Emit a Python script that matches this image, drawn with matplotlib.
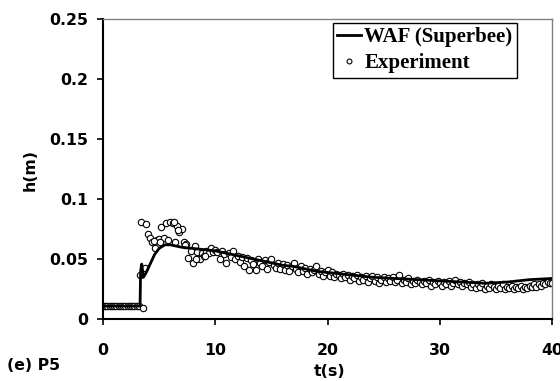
import numpy as np
import matplotlib
matplotlib.use("Agg")
import matplotlib.pyplot as plt
from matplotlib.lines import Line2D

# --- Simulated (WAF Superbee) ---
sim_t = [0, 3.3, 3.35, 3.45, 3.6, 3.8, 4.2, 4.6, 5.0, 5.5, 6.0, 7.0, 8.0, 9.0, 10.0,
         11.0, 12.0, 13.0, 14.0, 15.0, 16.0, 17.0, 18.0, 19.0, 20.0, 22.0, 24.0,
         26.0, 28.0, 30.0, 32.0, 34.0, 36.0, 38.0, 40.0]
sim_h = [0.011, 0.011, 0.040, 0.046, 0.035, 0.038, 0.046, 0.054, 0.059, 0.062, 0.062,
         0.060, 0.059, 0.058, 0.057, 0.055, 0.053, 0.051, 0.049, 0.047, 0.045, 0.044,
         0.042, 0.040, 0.039, 0.037, 0.035, 0.034, 0.033, 0.032, 0.031, 0.030, 0.031,
         0.033, 0.034]

# --- Experiment (sampled every 0.2 s) ---
exp_dt = 0.2
exp_h = [
    0.011, 0.011, 0.011, 0.011, 0.011, 0.011, 0.011, 0.011, 0.011, 0.011,
    0.011, 0.011, 0.011, 0.011, 0.011, 0.011, 0.011, 0.081, 0.009, 0.079,
    0.071, 0.068, 0.064, 0.059, 0.066, 0.067, 0.077, 0.068, 0.080, 0.066,
    0.081, 0.080, 0.064, 0.078, 0.073, 0.075, 0.064, 0.063, 0.051, 0.057,
    0.047, 0.061, 0.056, 0.050, 0.055, 0.053, 0.057, 0.055, 0.059, 0.056,
    0.058, 0.056, 0.050, 0.057, 0.054, 0.047, 0.055, 0.052, 0.057, 0.050,
    0.053, 0.048, 0.052, 0.044, 0.051, 0.041, 0.049, 0.046, 0.041, 0.050,
    0.047, 0.044, 0.049, 0.042, 0.048, 0.050, 0.045, 0.043, 0.047, 0.042,
    0.046, 0.041, 0.045, 0.040, 0.044, 0.047, 0.042, 0.039, 0.044, 0.040,
    0.043, 0.038, 0.042, 0.039, 0.041, 0.044, 0.038, 0.040, 0.036, 0.039,
    0.041, 0.036, 0.039, 0.035, 0.038, 0.037, 0.034, 0.038, 0.035, 0.037,
    0.033, 0.036, 0.034, 0.037, 0.032, 0.035, 0.033, 0.036, 0.031, 0.034,
    0.036, 0.032, 0.035, 0.030, 0.033, 0.035, 0.031, 0.034, 0.032, 0.035,
    0.031, 0.033, 0.037, 0.030, 0.033, 0.031, 0.034, 0.029, 0.032, 0.030,
    0.033, 0.031, 0.029, 0.032, 0.030, 0.033, 0.028, 0.031, 0.029, 0.032,
    0.030, 0.028, 0.031, 0.029, 0.032, 0.028, 0.030, 0.033, 0.029, 0.031,
    0.028, 0.030, 0.029, 0.031, 0.027, 0.029, 0.026, 0.029, 0.027, 0.030,
    0.025, 0.028, 0.026, 0.029, 0.027, 0.025, 0.028, 0.026, 0.029, 0.025,
    0.027, 0.026, 0.028, 0.025, 0.027, 0.026, 0.028, 0.025, 0.027, 0.026,
    0.028, 0.027, 0.029, 0.027, 0.029, 0.028, 0.030, 0.029, 0.031, 0.030,
    0.030,
]
exp_extra_t = [3.3, 3.7, 4.5, 5.1, 6.3, 6.7, 7.3, 8.3, 9.1]
exp_extra_h = [0.037, 0.043, 0.065, 0.064, 0.081, 0.074, 0.062, 0.050, 0.053]

x_ticks = [0, 10, 20, 30, 40]
y_ticks = [0, 0.05, 0.1, 0.15, 0.2, 0.25]
y_tick_labels = ["0", "0.05", "0.1", "0.15", "0.2", "0.25"]

exp_t = np.arange(len(exp_h)) * exp_dt
all_t = np.concatenate([exp_t, exp_extra_t])
all_h = np.concatenate([exp_h, exp_extra_h])

sans = ["DejaVu Sans"]
serif = ["Liberation Serif", "DejaVu Serif"]
fs = 11.3

fig = plt.figure(figsize=(5.6, 3.81), dpi=100)
ax = fig.add_axes([103 / 560, 1 - 319.3 / 381, (552 - 103) / 560, (319.3 - 19) / 381])

ax.plot(all_t, all_h, linestyle="none", marker="o", markersize=4.6,
        markerfacecolor="white", markeredgecolor="black", markeredgewidth=0.8, zorder=2)
ax.plot(sim_t, sim_h, color="black", linewidth=2.0, zorder=3)

ax.set_xlim(0, 40)
ax.set_ylim(0, 0.25)
ax.set_xticks(x_ticks)
ax.set_xticklabels([str(v) for v in x_ticks])
ax.set_yticks(y_ticks)
ax.set_yticklabels(y_tick_labels)

for s in ["left", "bottom"]:
    ax.spines[s].set_color("black")
    ax.spines[s].set_linewidth(1.5)
for s in ["top", "right"]:
    ax.spines[s].set_color("#808080")
    ax.spines[s].set_linewidth(1.0)

ax.tick_params(axis="both", direction="out", length=4.3, width=1.2, color="black")
ax.tick_params(axis="y", pad=6.5)
ax.tick_params(axis="x", pad=12.5)
for lab in ax.get_xticklabels() + ax.get_yticklabels():
    lab.set_fontfamily(sans)
    lab.set_fontweight("bold")
    lab.set_fontsize(fs)

fig.text(330 / 560, 1 - 371 / 381, "t(s)", ha="center", va="center",
         fontfamily=sans, fontweight="bold", fontsize=fs)
fig.text(30 / 560, 1 - 170 / 381, "h(m)", ha="center", va="center", rotation=90,
         fontfamily=sans, fontweight="bold", fontsize=fs)
fig.text(7 / 560, 1 - 366 / 381, "(e) P5", ha="left", va="center",
         fontfamily=sans, fontweight="bold", fontsize=fs)

handles = [
    Line2D([], [], color="black", linewidth=2.0),
    Line2D([], [], linestyle="none", marker="o", markersize=3.5,
           markerfacecolor="white", markeredgecolor="black", markeredgewidth=0.8),
]
leg = fig.legend(handles, ["WAF (Superbee)", "Experiment"],
                 loc="upper left", bbox_to_anchor=(333 / 560, 1 - 23 / 381),
                 prop={"family": serif, "weight": "bold", "size": 15},
                 frameon=True, fancybox=False, edgecolor="black", framealpha=1,
                 handlelength=1.15, handletextpad=0.15, borderpad=0.2,
                 labelspacing=0.3, borderaxespad=0)
leg.get_frame().set_linewidth(1.0)

fig.savefig("out.png", dpi=100)
